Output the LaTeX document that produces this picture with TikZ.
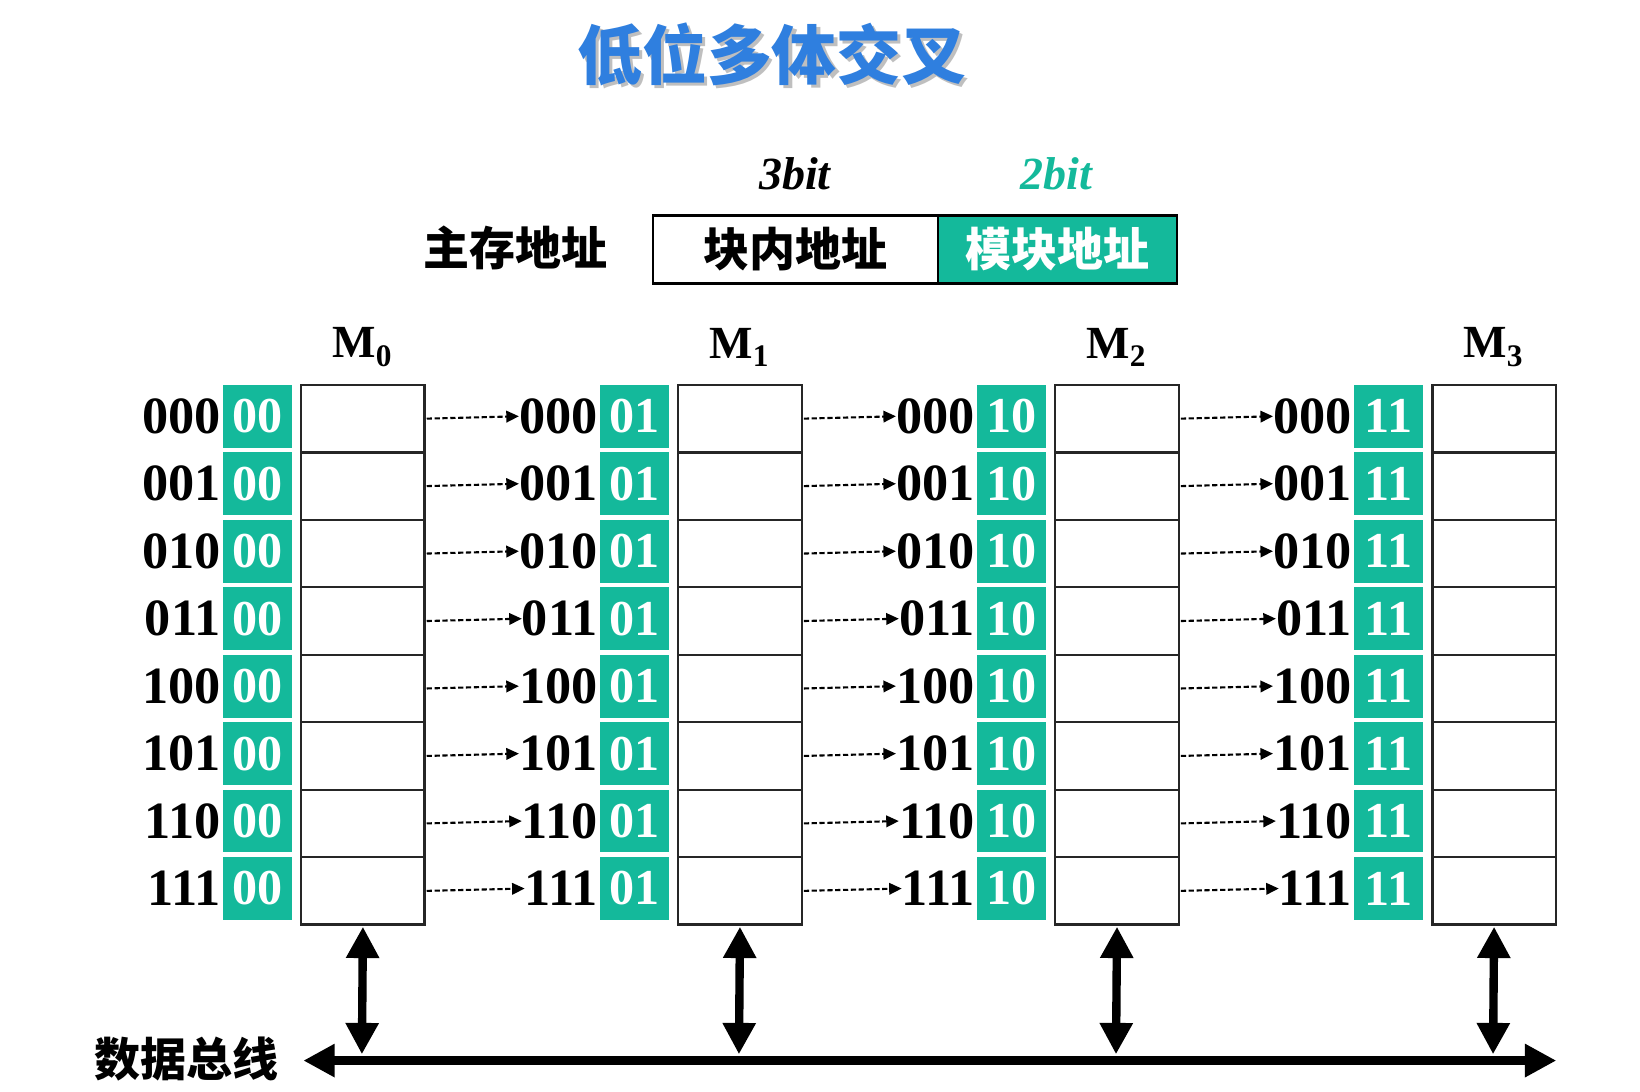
\documentclass[tikz,border=0pt]{standalone}
\usepackage{fontspec}
\setmainfont{Liberation Serif}
\newfontfamily\cjk{Noto Sans CJK SC}
\usetikzlibrary{arrows.meta}
\definecolor{teal1}{HTML}{14B99B}
\definecolor{blue1}{HTML}{2F7FDF}
\newcommand{\msub}[2]{#1\raisebox{-8pt}{\fontsize{30}{30}\selectfont #2}}
\tikzset{
  cell/.style={draw=black!85,line width=2.2pt,minimum width=118pt,minimum height=64.5pt,inner sep=0pt,outer sep=0pt},
  tealsq/.style={fill=teal1,minimum width=66pt,minimum height=60pt,inner sep=0pt,text=white,font=\fontsize{48}{48}\selectfont\bfseries},
  num/.style={anchor=east,inner sep=0pt,font=\fontsize{50}{50}\selectfont\bfseries},
  dasharrow/.style={dash pattern=on 5pt off 2.5pt,line width=2pt,-{Triangle[length=12pt,width=11pt]}},
  bigarrow/.style={line width=8pt,{Triangle[length=30pt,width=30pt]}-{Triangle[length=30pt,width=30pt]}},
  mlabel/.style={font=\fontsize{44}{44}\selectfont\bfseries},
  cjklabel/.style={font=\cjk\bfseries\fontsize{44}{44}\selectfont}
}
\begin{document}
\begin{tikzpicture}[x=1pt,y=-1pt]
\useasboundingbox (0,0) rectangle (1568,1044);
\node[font=\cjk\bfseries\fontsize{62}{62}\selectfont,text=black!25] (titles) at (741,55) {低位多体交叉};
\node[font=\cjk\bfseries\fontsize{62}{62}\selectfont,text=blue1] (title) at (738,52) {低位多体交叉};
\node[font=\fontsize{44}{44}\selectfont\bfseries\itshape] (b3) at (760,166) {3bit};
\node[font=\fontsize{44}{44}\selectfont\bfseries\itshape,text=teal1] (b2) at (1010,166) {2bit};
\node[cjklabel] (zc) at (493,237) {主存地址};
\node[draw,line width=2.2pt,minimum width=273pt,minimum height=65pt,inner sep=0pt,cjklabel] (kn) at (760.5,238.5) {块内地址};
\node[draw,line width=2.2pt,fill=teal1,text=white,minimum width=228pt,minimum height=65pt,inner sep=0pt,cjklabel] (mk) at (1011,238.5) {模块地址};
\node[cjklabel] (bus) at (178,1013) {数据总线};
\coordinate (busL) at (290,1014);
\coordinate (busR) at (1488,1014);
\draw[bigarrow] (busL) -- (busR);
\foreach \k/\s in {0/00,1/01,2/10,3/11}{
  \pgfmathsetmacro{\bx}{288+360.5*\k}
  \node[mlabel] (M\k) at (\bx+58,332) {\msub{M}{\k}};
  \foreach \r/\h in {0/000,1/001,2/010,3/011,4/100,5/101,6/110,7/111}{
    \node[cell,anchor=north west] (c\k\r) at (\bx,368+64.5*\r) {};
    \node[tealsq] (t\k\r) at (\bx-42,{368+64.5*\r+30}) {\s};
    \node[num] (n\k\r) at (\bx-77,{368+64.5*\r+30}) {\h};
  }
  \coordinate (a\k) at (\bx+58,1008);
  \draw[bigarrow,shorten <=2pt] (c\k7.south) -- (a\k);
}
\foreach \k [evaluate=\k as \j using int(\k+1)] in {0,1,2}{
  \foreach \r in {0,...,7}{
    \draw[dasharrow] (c\k\r.east) ++(2,0) -- (n\j\r.west);
  }
}
\end{tikzpicture}
\end{document}
